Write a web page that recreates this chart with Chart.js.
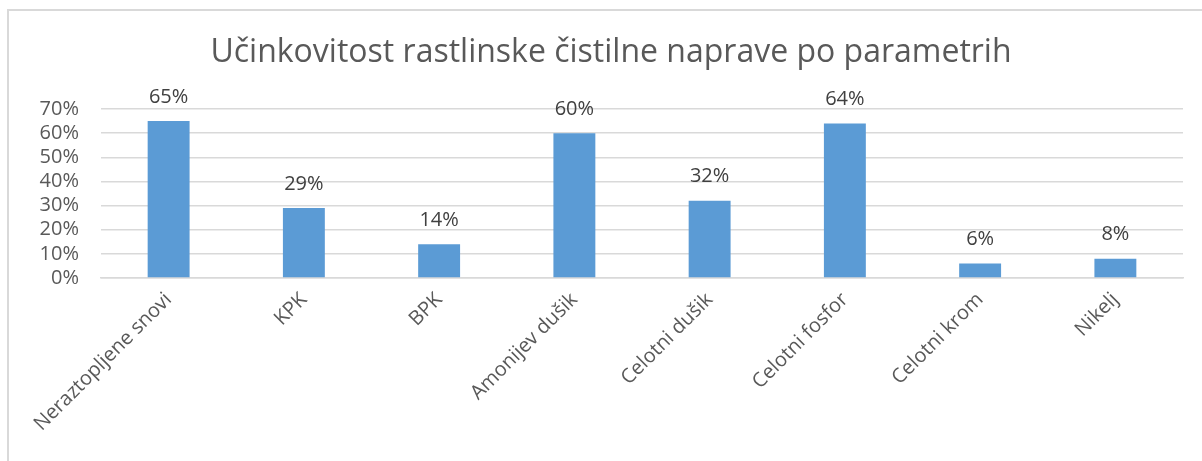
<!DOCTYPE html>
<html>
<head>
<meta charset="utf-8">
<script src="https://cdn.jsdelivr.net/npm/chart.js@4"></script>
<style>
  body { margin: 0; background: #fff; }
  .chartBox { position: relative; width: 1202px; height: 461px; }
  .frame { position: absolute; left: 7px; top: 9px; width: 1300px; height: 600px;
           border-left: 2px solid #d9d9d9; border-top: 2px solid #d9d9d9; }
</style>
</head>
<body>
<div class="chartBox">
  <div class="frame"></div>
  <canvas id="chart" width="1202" height="461"></canvas>
</div>
<script>
// data
const categories = ["Neraztopljene snovi", "KPK", "BPK", "Amonijev dušik",
  "Celotni dušik", "Celotni fosfor", "Celotni krom", "Nikelj"];
const efficiency = [65, 29, 14, 60, 32, 64, 6, 8];
const yTicks = [0, 10, 20, 30, 40, 50, 60, 70];

const FONT = "'Open Sans', sans-serif";

// draws the % labels above the bars
const barLabels = {
  id: "barLabels",
  afterDatasetsDraw(chart) {
    const ctx = chart.ctx;
    const meta = chart.getDatasetMeta(0);
    ctx.save();
    ctx.fillStyle = "#404040";
    ctx.font = "20px " + FONT;
    ctx.textAlign = "center";
    ctx.textBaseline = "middle";
    meta.data.forEach((bar, i) => {
      ctx.fillText(efficiency[i] + "%", bar.x, bar.y - 24);
    });
    ctx.restore();
  }
};

const myChart = new Chart(document.getElementById("chart"), {
  type: "bar",
  data: {
    labels: categories,
    datasets: [{
      data: efficiency,
      backgroundColor: "#5b9bd5",
      borderWidth: 0,
      categoryPercentage: 1,
      barPercentage: 0.31
    }]
  },
  options: {
    responsive: false,
    animation: false,
    layout: { padding: { left: 39, right: 19, top: 0, bottom: 0 } },
    plugins: {
      legend: { display: false },
      tooltip: { enabled: false },
      title: {
        display: true,
        text: "Učinkovitost rastlinske čistilne naprave po parametrih",
        color: "#595959",
        font: { family: FONT, size: 32, weight: "normal" },
        padding: { top: 34, bottom: 36.6 }
      }
    },
    scales: {
      x: {
        grid: { display: false },
        border: { color: "#d9d9d9", width: 1.5 },
        ticks: {
          color: "#595959",
          font: { family: FONT, size: 20 },
          maxRotation: 45,
          minRotation: 45,
          padding: 2
        },
        afterFit(scale) { scale.height = 183; }
      },
      y: {
        min: 0,
        max: 70,
        afterBuildTicks(scale) { scale.ticks = yTicks.map(v => ({ value: v })); },
        grid: { color: "#d9d9d9", lineWidth: 1.5, drawTicks: false },
        border: { display: false },
        ticks: {
          autoSkip: false,
          color: "#595959",
          font: { family: FONT, size: 20 },
          padding: 22,
          callback: v => v + "%"
        },
        afterFit(scale) { scale.width = 62; }
      }
    }
  },
  plugins: [barLabels]
});
</script>
</body>
</html>
